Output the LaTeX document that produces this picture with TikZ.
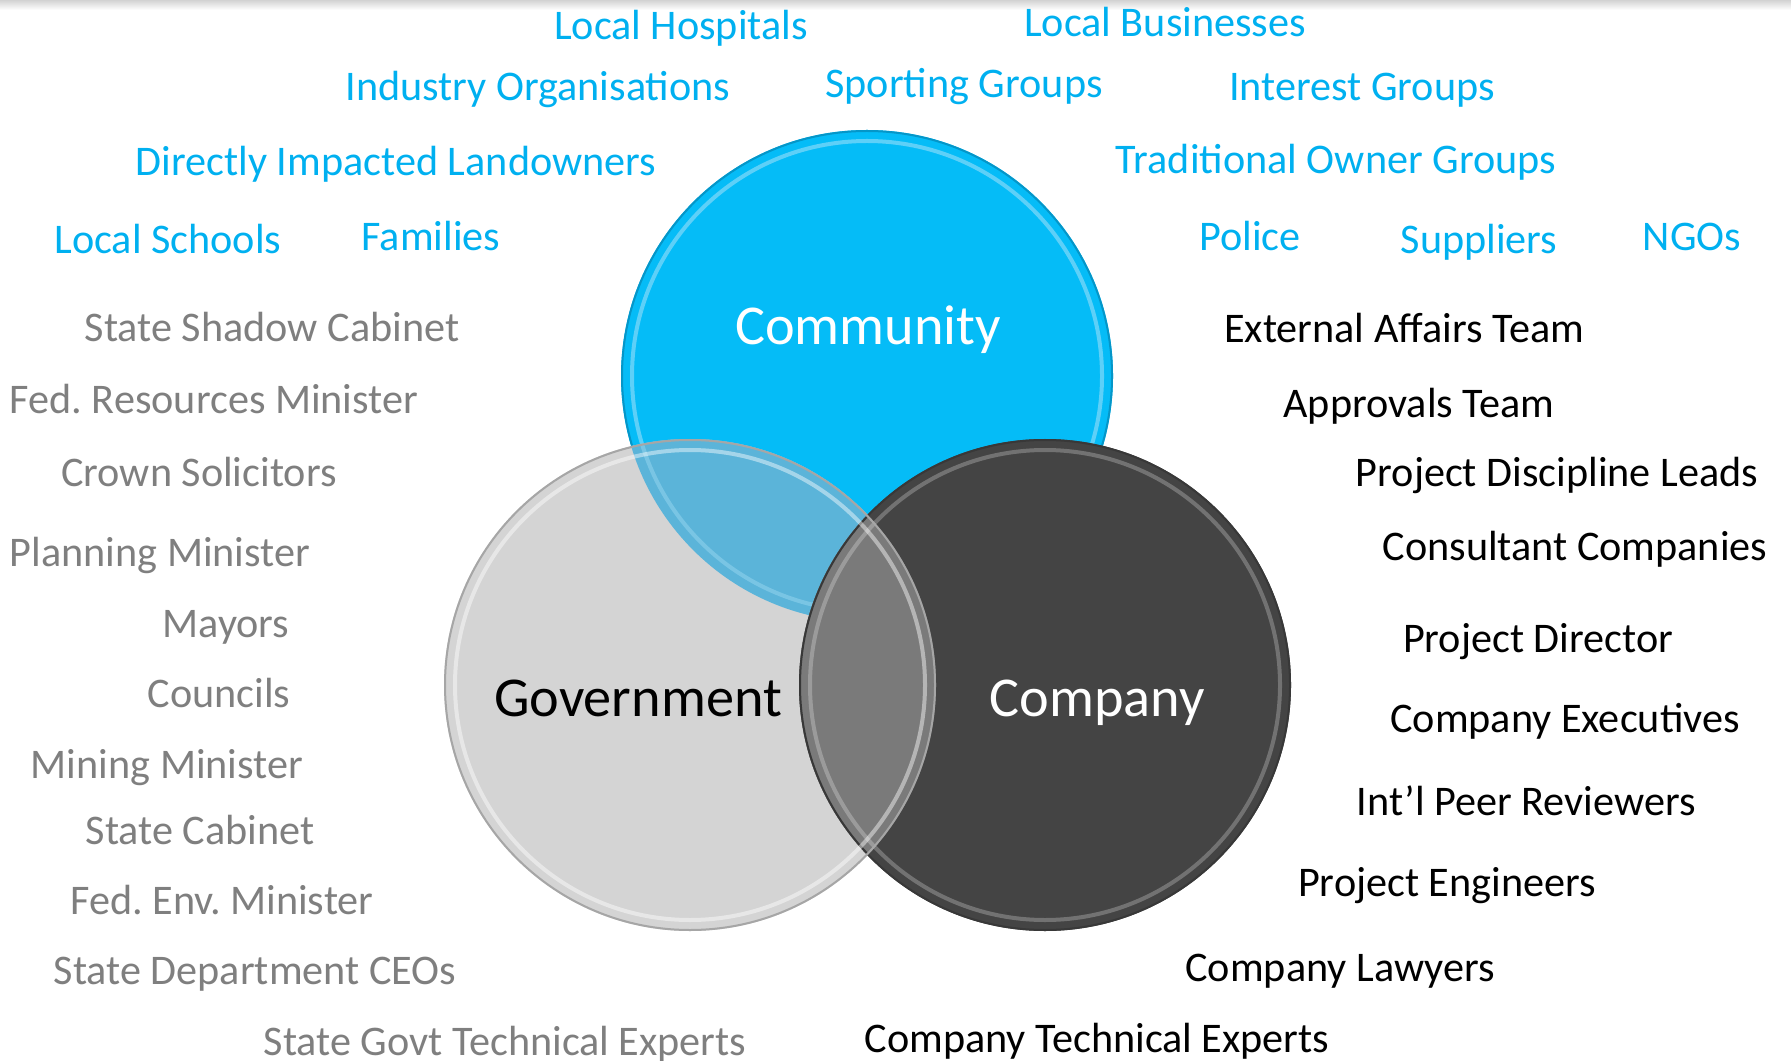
\documentclass[tikz,border=0pt]{standalone}
\usepackage{fontspec}
\setmainfont{Carlito}
\usetikzlibrary{positioning}
\frenchspacing

\definecolor{commfill}{HTML}{05BCF7}
\definecolor{commtext}{HTML}{00B0F0}
\definecolor{commedge}{HTML}{0596C8}
\definecolor{govfill}{HTML}{D4D4D4}
\definecolor{govedge}{HTML}{A6A6A6}
\definecolor{govtext}{HTML}{7F7F7F}
\definecolor{compfill}{HTML}{444444}
\definecolor{compedge}{HTML}{383838}
\definecolor{commgov}{HTML}{5BB4D9}
\definecolor{govcomp}{HTML}{7A7A7A}

\tikzset{
  lbl/.style={font=\fontsize{12}{14}\selectfont, inner sep=0pt, text height=0.64em, text depth=0pt, yshift=-0.03cm},
  commlbl/.style={lbl, text=commtext},
  govlbl/.style={lbl, text=govtext},
  complbl/.style={lbl, text=black},
  setlbl/.style={font=\fontsize{16}{19}\selectfont, inner sep=0pt, text height=0.64em, text depth=0pt, yshift=-0.06cm},
  rimline/.style={line width=0.02cm},
  glassring/.style={line width=0.04cm, white, opacity=0.45}
}

\begin{document}
\begin{tikzpicture}[x=0.01cm, y=-0.01cm]
        \useasboundingbox (0,0) rectangle (1791,1061);
        % Faint shadow along the top
        \shade[top color=gray!35, bottom color=white] (0,0) rectangle (1791,10);

        % Circle centres
        \coordinate (commC) at (867,376);
        \coordinate (govC) at (690,685);
        \coordinate (compC) at (1045,685);

        % Community circle
        \fill[commfill] (commC) circle (246);
        \draw[rimline, commedge] (commC) circle (245);
        \draw[line width=0.04cm, cyan!40!white, opacity=0.6] (commC) circle (235);

        % Government circle, with its lens over Community
        \fill[govfill] (govC) circle (246);
        \begin{scope}
          \clip (govC) circle (246);
          \fill[commgov] (commC) circle (246);
          \draw[line width=0.04cm, cyan!30!white, opacity=0.35] (commC) circle (235);
        \end{scope}

        % Company circle, with its lens under Government
        \fill[compfill] (compC) circle (246);
        \begin{scope}
          \clip (compC) circle (246);
          \fill[govcomp] (govC) circle (246);
        \end{scope}

        % Borders
        \draw[rimline, compedge] (compC) circle (245);
        \draw[glassring, opacity=0.25] (compC) circle (235);
        \draw[rimline, govedge] (govC) circle (245);
        \draw[glassring] (govC) circle (235);

        % Set names
        \node[setlbl, text=white] (community) at (868,327) {Community};
        \node[setlbl, text=black] (government) at (638,699) {Government};
        \node[setlbl, text=white] (company) at (1097,699) {Company};

        % Community stakeholders
        \node[commlbl] (hospitals) at (681,25) {Local Hospitals};
        \node[commlbl] (businesses) at (1165,22) {Local Businesses};
        \node[commlbl] (indorgs) at (538,86) {Industry Organisations};
        \node[commlbl] (sporting) at (964,83) {Sporting Groups};
        \node[commlbl] (interest) at (1362,86) {Interest Groups};
        \node[commlbl] (landowners) at (396,161) {Directly Impacted Landowners};
        \node[commlbl] (traditional) at (1336,159) {Traditional Owner Groups};
        \node[commlbl] (schools) at (168,239) {Local Schools};
        \node[commlbl] (families) at (431,236) {Families};
        \node[commlbl] (police) at (1250,236) {Police};
        \node[commlbl] (suppliers) at (1479,239) {Suppliers};
        \node[commlbl] (ngos) at (1692,236) {NGOs};

        % Government stakeholders
        \node[govlbl] (shadowcab) at (272,327) {State Shadow Cabinet};
        \node[govlbl] (fedres) at (214,399) {Fed. Resources Minister};
        \node[govlbl] (crown) at (199,472) {Crown Solicitors};
        \node[govlbl] (planning) at (160,552) {Planning Minister};
        \node[govlbl] (mayors) at (226,623) {Mayors};
        \node[govlbl] (councils) at (219,693) {Councils};
        \node[govlbl] (mining) at (167,764) {Mining Minister};
        \node[govlbl] (statecab) at (200,830) {State Cabinet};
        \node[govlbl] (fedenv) at (222,900) {Fed. Env. Minister};
        \node[govlbl] (ceos) at (255,970) {State Department CEOs};
        \node[govlbl] (govexperts) at (505,1041) {State Govt Technical Experts};

        % Company stakeholders
        \node[complbl] (extaffairs) at (1404,328) {External Affairs Team};
        \node[complbl] (approvals) at (1419,403) {Approvals Team};
        \node[complbl] (discleads) at (1557,472) {Project Discipline Leads};
        \node[complbl] (consultants) at (1575,546) {Consultant Companies};
        \node[complbl] (director) at (1538,638) {Project Director};
        \node[complbl] (executives) at (1565,718) {Company Executives};
        \node[complbl] (peers) at (1526,801) {Int’l Peer Reviewers};
        \node[complbl] (engineers) at (1447,882) {Project Engineers};
        \node[complbl] (lawyers) at (1340,967) {Company Lawyers};
        \node[complbl] (compexperts) at (1097,1038) {Company Technical Experts};
\end{tikzpicture}
\end{document}
